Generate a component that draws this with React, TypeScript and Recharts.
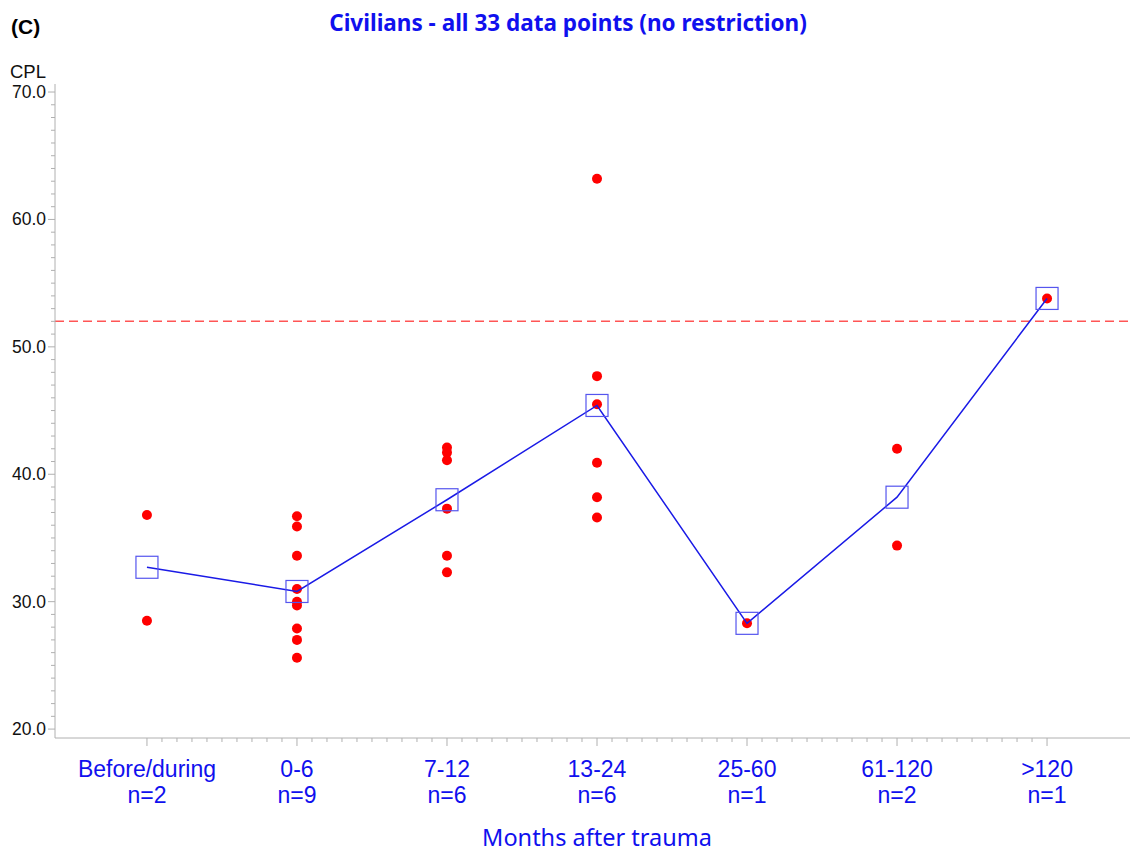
import React from "react";
import {
  ComposedChart,
  Scatter,
  XAxis,
  YAxis,
  ReferenceLine,
} from "recharts";

// groups along the x axis
const categories = ["Before/during", "0-6", "7-12", "13-24", "25-60", "61-120", ">120"];
const counts = [2, 9, 6, 6, 1, 2, 1];

// individual CPL values per group
const cplBefore = [36.8, 28.5];
const cpl0to6 = [36.7, 35.9, 33.6, 31.0, 30.0, 29.7, 27.9, 27.0, 25.6];
const cpl7to12 = [42.1, 41.7, 41.1, 37.3, 33.6, 32.3];
const cpl13to24 = [63.2, 47.7, 45.5, 40.9, 38.2, 36.6];
const cpl25to60 = [28.3];
const cpl61to120 = [42.0, 34.4];
const cplOver120 = [53.8];

// group means (square markers)
const groupMeans = [32.7, 30.8, 38.0, 45.4, 28.3, 38.2, 53.8];

const refCpl = 52.0;

const groups = [cplBefore, cpl0to6, cpl7to12, cpl13to24, cpl25to60, cpl61to120, cplOver120];
const points = groups.flatMap((vals, i) => vals.map((v) => ({ x: i, y: v })));
const means = groupMeans.map((v, i) => ({ x: i, y: v }));

const xDomain = [-0.613, 6.553];
const yDomain = [19.3, 70.63];

// major ticks at each group, minor ticks every tenth
const xTickPos: number[] = [];
for (let i = 0; i <= 60; i++) xTickPos.push(i / 10);
const yTickPos: number[] = [];
for (let v = 20; v <= 70; v++) yTickPos.push(v);

const BLUE = "#1010ee";
const AXIS = "#b0b0b0";
const FONT = "'Noto Sans', sans-serif";
const SANS = "'Liberation Sans', Arial, sans-serif";

const XTick = (props: any) => {
  const { x, y, payload } = props;
  const idx = Math.round(payload.value * 10);
  const major = idx % 10 === 0;
  if (!major) {
    return <line x1={x} x2={x} y1={y} y2={y + 4} stroke={AXIS} />;
  }
  const g = idx / 10;
  return (
    <g>
      <line x1={x} x2={x} y1={y} y2={y + 8} stroke={AXIS} />
      <text x={x} y={y + 39} textAnchor="middle" fill={BLUE} fontSize={23} fontFamily={SANS}>
        {categories[g]}
      </text>
      <text x={x} y={y + 65} textAnchor="middle" fill={BLUE} fontSize={23} fontFamily={SANS}>
        n={counts[g]}
      </text>
    </g>
  );
};

const YTick = (props: any) => {
  const { x, y, payload } = props;
  const v = payload.value;
  const major = v % 10 === 0;
  if (!major) {
    return <line x1={x - 4} x2={x} y1={y} y2={y} stroke={AXIS} />;
  }
  return (
    <g>
      <line x1={x - 7} x2={x} y1={y} y2={y} stroke={AXIS} />
      <text x={x - 9} y={y + 6} textAnchor="end" fill="#111" fontSize={17.5} fontFamily={SANS}>
        {v.toFixed(1)}
      </text>
    </g>
  );
};

const Dot = (props: any) => <circle cx={props.cx} cy={props.cy} r={5} fill="#ff0000" />;

const MeanSquare = (props: any) => (
  <rect
    x={props.cx - 11}
    y={props.cy - 11}
    width={22}
    height={22}
    fill="none"
    stroke="#5555ee"
    strokeWidth={1.2}
  />
);

export default function App() {
  return (
    <div style={{ position: "absolute", left: 0, top: 0, width: 1131, height: 853, background: "#fff" }}>
      <ComposedChart
        width={1131}
        height={853}
        margin={{ top: 84, right: 1, left: 0, bottom: 0 }}
      >
        <text x={11} y={34} fontSize={21} fontWeight="bold" fontFamily={SANS} fill="#000">
          (C)
        </text>
        <text x={568} y={31} textAnchor="middle" fontSize={22.5} fontWeight="bold" fontFamily={FONT} fill={BLUE}>
          Civilians - all 33 data points (no restriction)
        </text>
        <text x={46} y={77.5} textAnchor="end" fontSize={18.5} fontFamily={SANS} fill="#111">
          CPL
        </text>
        <text x={597} y={846} textAnchor="middle" fontSize={23.5} fontFamily={FONT} fill={BLUE}>
          Months after trauma
        </text>
        <XAxis
          xAxisId="top"
          orientation="top"
          type="number"
          domain={xDomain}
          height={0}
          tick={false}
          tickLine={false}
          axisLine={{ stroke: AXIS }}
        />
        <XAxis
          type="number"
          dataKey="x"
          domain={xDomain}
          ticks={xTickPos}
          interval={0}
          height={115}
          tickSize={0}
          tickMargin={0}
          tickLine={false}
          tick={<XTick />}
          axisLine={{ stroke: AXIS }}
          allowDataOverflow
        />
        <YAxis
          type="number"
          dataKey="y"
          domain={yDomain}
          ticks={yTickPos}
          interval={0}
          width={55}
          tickSize={0}
          tickMargin={0}
          tickLine={false}
          tick={<YTick />}
          axisLine={{ stroke: AXIS }}
          allowDataOverflow
        />
        <ReferenceLine y={refCpl} stroke="#ff5555" strokeWidth={1.5} strokeDasharray="9 5" />
        <Scatter data={points} shape={<Dot />} isAnimationActive={false} />
        <Scatter
          data={means}
          shape={<MeanSquare />}
          line={{ stroke: "#1a1ae6", strokeWidth: 1.5 }}
          isAnimationActive={false}
        />
      </ComposedChart>
    </div>
  );
}
